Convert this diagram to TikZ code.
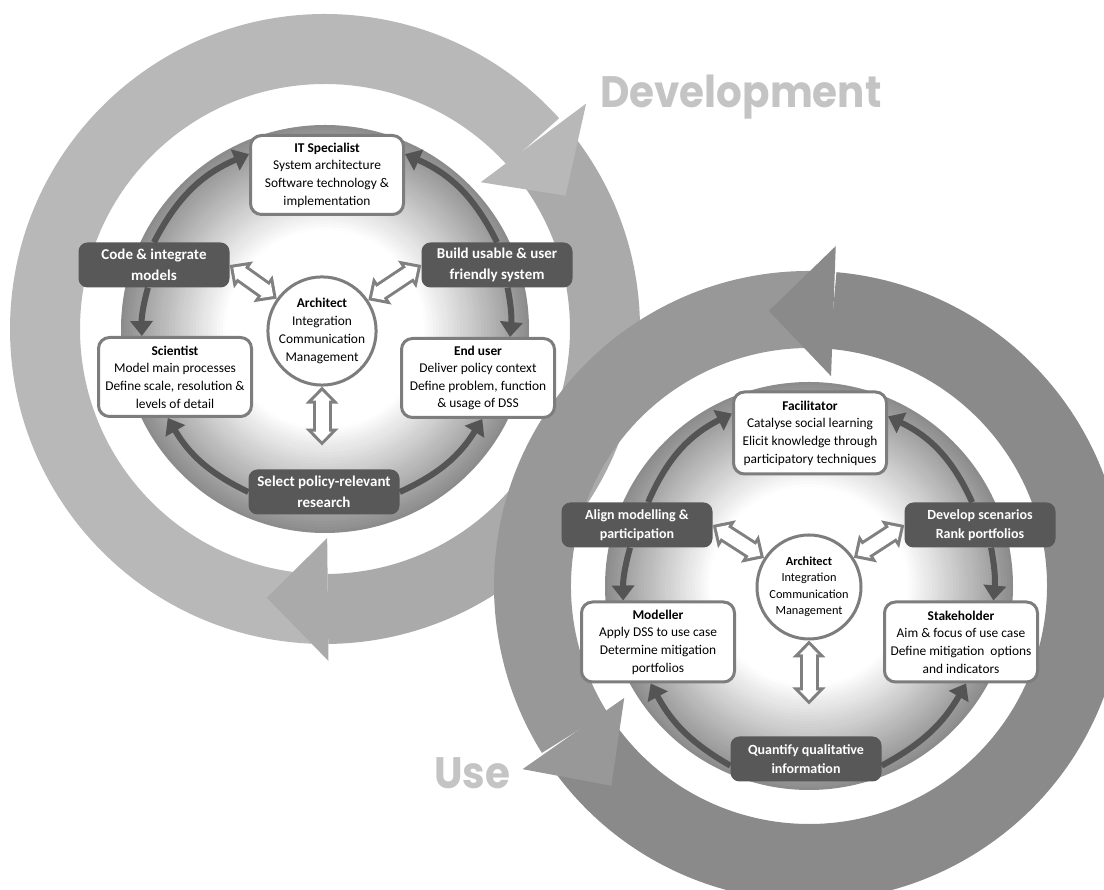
\documentclass[tikz,border=0pt]{standalone}
\usepackage{fontspec}
\setmainfont{Carlito}
\newfontfamily\cyclefont{Poppins}
\usetikzlibrary{arrows.meta, positioning}
\definecolor{devring}{RGB}{184,184,184}
\definecolor{devringb}{RGB}{170,170,170}
\definecolor{usering}{RGB}{138,138,138}
\definecolor{useringd}{RGB}{152,152,152}
\definecolor{labelgray}{RGB}{88,88,88}
\definecolor{framegray}{RGB}{125,125,125}
\definecolor{discgray}{RGB}{140,140,140}
\definecolor{flowgray}{RGB}{84,84,84}
\definecolor{linkgray}{RGB}{128,128,128}
\definecolor{titlegray}{RGB}{196,196,196}

\begin{document}
\begin{tikzpicture}[x=1pt, y=1pt,
    role/.style={draw=framegray, line width=3pt, fill=white, rounded corners=11pt, align=center,
      minimum width=153pt, minimum height=79pt, inner sep=0pt, font=\fontsize{13.4}{17.6}\selectfont},
    task/.style={fill=labelgray, text=white, rounded corners=9pt, align=center,
      minimum width=151pt, minimum height=45pt, inner sep=0pt, font=\bfseries\fontsize{15}{20.5}\selectfont},
    smalltask/.style={font=\bfseries\fontsize{14}{19}\selectfont},
    hub/.style={circle, draw=framegray, line width=3pt, fill=white, align=center, inner sep=0pt,
      minimum size=98pt, font=\fontsize{13.4}{18}\selectfont},
    smallhub/.style={minimum size=104pt, font=\fontsize{12.3}{16.5}\selectfont},
    flow/.style={draw=flowgray, line width=6pt, -{Triangle[length=15pt,width=22pt]}},
    link/.style={draw=linkgray, line width=19pt, {Triangle[length=17pt,width=32pt]}-{Triangle[length=17pt,width=32pt]},
      postaction={draw=white, line width=13pt, shorten <=4.4pt, shorten >=4.4pt,
        {Triangle[length=9.6pt,width=18pt]}-{Triangle[length=9.6pt,width=18pt]}}},
    cycletitle/.style={text=titlegray, inner sep=0pt, font=\cyclefont\bfseries\fontsize{44}{44}\selectfont}]
  \useasboundingbox (0,0) rectangle (1104,890);
  \clip (0,0) rectangle (1104,890);
  %\draw [step=50, very thin, lightgray] (0,0) grid (1104,890);
  \coordinate (devmid) at (325,561);
  \coordinate (usemid) at (809,304);

  % development cycle
  \fill [devring] ([shift={(devmid)}]267.5:315pt) arc[start angle=267.5, end angle=42, radius=315pt] --
    ([shift={(devmid)}]42:245pt) arc[start angle=42, end angle=267.5, radius=245pt] -- cycle;
  \fill [devringb] ([shift={(devmid)}]39:315pt) arc[start angle=39, end angle=-89.4, radius=315pt] --
    ([shift={(devmid)}]-89.4:245pt) arc[start angle=-89.4, end angle=39, radius=245pt] -- cycle;
  \fill [devring] ([shift={(devmid)}]43.3:214pt) -- ([shift={(devmid)}]40.8:345pt) -- ([shift={(devmid)}]29:275pt) -- cycle;
  \fill [devringb] ([shift={(devmid)}]-89.4:209pt) -- ([shift={(devmid)}]-89.4:332pt) -- ([shift={(devmid)}]-102.2:275pt) -- cycle;

  % use cycle
  \fill [useringd] ([shift={(usemid)}]88:315pt) arc[start angle=88, end angle=212, radius=315pt] --
    ([shift={(usemid)}]212:238pt) arc[start angle=212, end angle=88, radius=238pt] -- cycle;
  \fill [usering] ([shift={(usemid)}]215:315pt) arc[start angle=215, end angle=445, radius=315pt] --
    ([shift={(usemid)}]445:238pt) arc[start angle=445, end angle=215, radius=238pt] -- cycle;
  \fill [usering] ([shift={(usemid)}]84:211pt) -- ([shift={(usemid)}]85.5:341pt) -- ([shift={(usemid)}]98.3:278pt) -- cycle;
  \fill [useringd] ([shift={(usemid)}]211.2:216pt) -- ([shift={(usemid)}]212.6:340pt) -- ([shift={(usemid)}]225.3:281pt) -- cycle;

  % shaded discs
  \foreach \rad in {204,201,...,99}{
    \pgfmathtruncatemacro\shadepct{(\rad-99)*100/105}
    \fill [discgray!\shadepct!white] (devmid) circle (\rad pt);
    \fill [discgray!\shadepct!white] (usemid) circle (\rad pt);
  }

  \node [cycletitle, anchor=base west] (devlabel) at (600,782) {\scalebox{0.92}[1]{Development}};
  \node [cycletitle, anchor=base west] (uselabel) at (434,101) {\scalebox{0.92}[1]{Use}};

  % development roles
  \node [role] (it) at (327,715) {\textbf{IT Specialist}\\System architecture\\Software technology \&\\implementation};
  \node [task] (code) at (154,625) {Code \& integrate\\models};
  \node [task] (build) at (497,625) {Build usable \& user\\friendly system};
  \node [hub] (arch) at (322,559) {\textbf{Architect}\\Integration\\Communication\\Management};
  \node [role] (sci) at (175,513) {\textbf{Scientist}\\Model main processes\\Define scale, resolution \&\\levels of detail};
  \node [role] (enduser) at (478,512) {\textbf{End user}\\Deliver policy context\\Define problem, function\\\& usage of DSS};
  \node [task] (select) at (324,398) {Select policy-relevant\\research};

  \draw [flow] (code.north) to[bend left=20] (it.165);
  \draw [flow] (build.north) to[bend right=20] (it.15);
  \draw [flow] (code.255) to[bend right=8] (sci.129);
  \draw [flow] (build.295) to[bend left=8] (enduser.52);
  \draw [flow] (select.west) to[bend left=17] (sci.260);
  \draw [flow] (select.east) to[bend right=17] (enduser.276);

  \coordinate [below=59pt of arch.south] (archfoot);
  \draw [link] (code.east) -- (arch);
  \draw [link] (arch) -- (build.west);
  \draw [link] (arch) -- (archfoot);

  % use roles
  \node [role, minimum height=82pt] (facil) at (810,457) {\textbf{Facilitator}\\Catalyse social learning\\Elicit knowledge through\\participatory techniques};
  \node [task, smalltask] (align) at (637,365) {Align modelling \&\\participation};
  \node [task, smalltask] (scen) at (980,365) {Develop scenarios\\Rank portfolios};
  \node [hub, smallhub] (arch2) at (809,303) {\textbf{Architect}\\Integration\\Communication\\Management};
  \node [role, minimum height=80pt] (modeller) at (658,248) {\textbf{Modeller}\\Apply DSS to use case\\Determine mitigation\\portfolios};
  \node [role, minimum height=80pt] (stake) at (961,248) {\textbf{Stakeholder}\\Aim \& focus of use case\\Define mitigation\ \ options\\and indicators};
  \node [task, smalltask] (quant) at (806,131) {Quantify qualitative\\information};

  \draw [flow] (align.64) to[bend left=20] (facil.166);
  \draw [flow] (scen.109) to[bend right=20] (facil.12);
  \draw [flow] (align.253) to[bend right=8] (modeller.130);
  \draw [flow] (scen.296) to[bend left=8] (stake.52);
  \draw [flow] (quant.185) to[bend left=16] (modeller.260);
  \draw [flow] (quant.355) to[bend right=16] (stake.277);

  \coordinate [below=64pt of arch2.south] (arch2foot);
  \draw [link] (align.east) -- (arch2);
  \draw [link] (arch2) -- (scen.west);
  \draw [link] (arch2) -- (arch2foot);
\end{tikzpicture}
\end{document}
